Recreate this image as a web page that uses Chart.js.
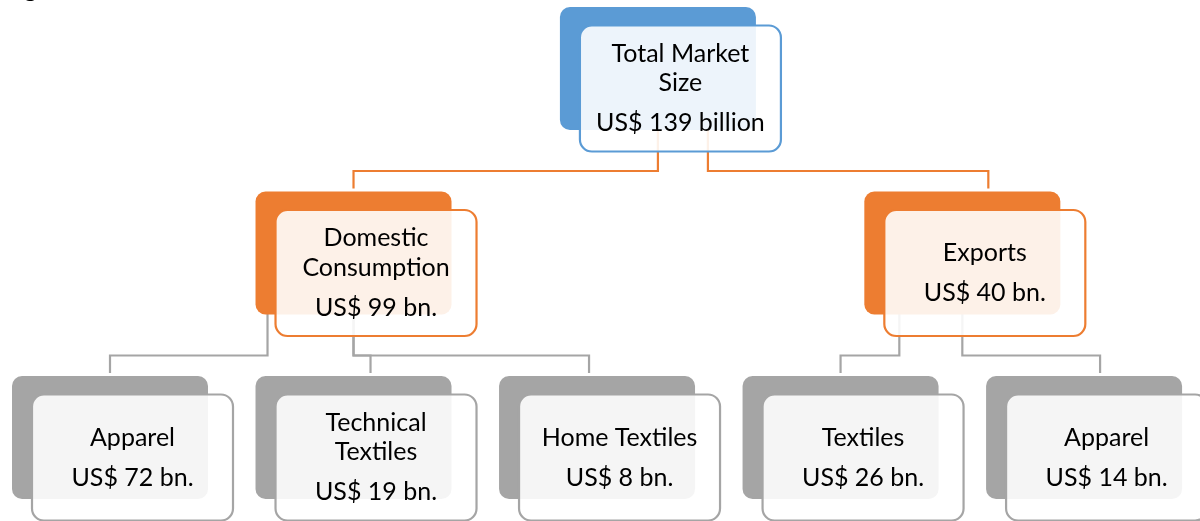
<!DOCTYPE html>
<html>
<head>
<meta charset="utf-8">
<script src="https://cdn.jsdelivr.net/npm/chart.js@4"></script>
<style>
  html, body { margin: 0; padding: 0; background: #ffffff; }
  #wrap { width: 1200px; height: 521px; position: relative; }
</style>
</head>
<body>
<div id="wrap"><canvas id="market-tree-canvas"></canvas></div>
<script>
// tree data (parent index -1 = root)
const nodeLabels = ['Total Market\nSize', 'Domestic\nConsumption', 'Exports',
  'Apparel', 'Technical\nTextiles', 'Home Textiles', 'Textiles', 'Apparel'];
const nodeValues = [139, 99, 40, 72, 19, 8, 26, 14];
const nodeUnits = ['billion', 'bn.', 'bn.', 'bn.', 'bn.', 'bn.', 'bn.', 'bn.'];
const nodeParents = [-1, 0, 0, 1, 1, 1, 2, 2];

// styles
const levelColors = ['#5B9BD5', '#ED7D31', '#A5A5A5'];
const FONT = '25px Lato, "Noto Sans", sans-serif';
// small hand-drawn nudges of the elbow connectors, px: [exit dx at parent, entry dx at child]
const connectorNudge = [null, [0, 0], [50, 26], [-86, 0], [0, 17], [0, -8], [-63, 0], [0, 16]];

// layout: leaves take columns in order, parents sit over the mean of their children
const levels = nodeParents.map(function (p, i) {
  let d = 0, k = i;
  while (nodeParents[k] !== -1) { k = nodeParents[k]; d++; }
  return d;
});
const children = nodeParents.map((_, i) => nodeParents.map((p, j) => p === i ? j : -1).filter(j => j >= 0));
const columns = new Array(nodeLabels.length);
let nextCol = 0;
(function place(i) {
  if (children[i].length === 0) { columns[i] = nextCol++; return; }
  children[i].forEach(place);
  columns[i] = children[i].reduce((s, j) => s + columns[j], 0) / children[i].length;
})(0);

function roundRect(ctx, x, y, w, h, r) {
  ctx.beginPath();
  ctx.moveTo(x + r, y);
  ctx.arcTo(x + w, y, x + w, y + h, r);
  ctx.arcTo(x + w, y + h, x, y + h, r);
  ctx.arcTo(x, y + h, x, y, r);
  ctx.arcTo(x, y, x + w, y, r);
  ctx.closePath();
}

const treePlugin = {
  id: 'treeBoxes',
  afterDatasetsDraw(chart) {
    const ctx = chart.ctx;
    const pts = chart.getDatasetMeta(0).data;
    const backW = 196, backH = 123, frontW = 201, frontH = 126, dx = 20, dy = 18.5;

    ctx.save();
    // caption cut off at the top edge
    ctx.fillStyle = '#000';
    ctx.font = FONT;
    ctx.textBaseline = 'alphabetic';
    ctx.fillText('Figure', 4, -3);

    // connectors first (coloured like the child), boxes go on top of them
    ctx.lineWidth = 2.2;
    nodeParents.forEach(function (p, i) {
      if (p < 0) return;
      const exitX = pts[p].x + connectorNudge[i][0];
      const entryX = pts[i].x + connectorNudge[i][1];
      const childTop = pts[i].y - backH / 2;
      const busY = childTop - 20.5;
      ctx.strokeStyle = levelColors[levels[i]];
      ctx.beginPath();
      ctx.moveTo(exitX, pts[p].y);
      ctx.lineTo(exitX, busY);
      ctx.lineTo(entryX, busY);
      ctx.lineTo(entryX, childTop - 3);
      ctx.stroke();
    });

    pts.forEach(function (pt, i) {
      const col = levelColors[levels[i]];
      const bx = pt.x - backW / 2, by = pt.y - backH / 2;
      roundRect(ctx, bx, by, backW, backH, 10);
      ctx.fillStyle = col;
      ctx.fill();

      const fx = bx + dx, fy = by + dy;
      roundRect(ctx, fx, fy, frontW, frontH, 12);
      ctx.fillStyle = 'rgba(255,255,255,0.89)';
      ctx.fill();
      ctx.lineWidth = 2.2;
      ctx.strokeStyle = col;
      ctx.stroke();

      const lines = nodeLabels[i].split('\n');
      lines.push('US$ ' + nodeValues[i] + ' ' + nodeUnits[i]);
      const total = (lines.length - 2) * 29.5 + 40;
      const cx = fx + frontW / 2;
      let y = fy + frontH / 2 - total / 2;
      ctx.fillStyle = '#000';
      ctx.font = FONT;
      ctx.textAlign = 'center';
      ctx.textBaseline = 'middle';
      lines.forEach(function (t, k) {
        ctx.fillText(t, cx, y);
        y += (k === lines.length - 2) ? 40 : 29.5;
      });
    });
    ctx.restore();
  }
};

const ctx = document.getElementById('market-tree-canvas').getContext('2d');
new Chart(ctx, {
  type: 'scatter',
  plugins: [treePlugin],
  data: {
    datasets: [{
      label: 'Market',
      data: nodeLabels.map((_, i) => ({ x: columns[i], y: levels[i] })),
      pointRadius: 0,
      pointHoverRadius: 0,
    }],
  },
  options: {
    responsive: true,
    maintainAspectRatio: false,
    animation: false,
    layout: { padding: 0 },
    scales: {
      x: { type: 'linear', display: false, min: -0.4517, max: 4.476 },
      y: { type: 'linear', display: false, reverse: true, min: -0.3713, max: 2.4526 },
    },
    plugins: {
      legend: { display: false },
      tooltip: { enabled: false },
    },
  },
});
</script>
</body>
</html>
